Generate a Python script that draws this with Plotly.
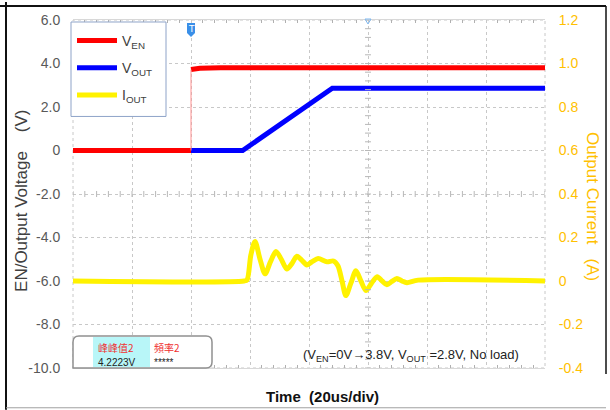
import plotly.graph_objects as go

# ---------------- data ----------------
# time in microseconds (20 us/div, 8 divisions)
ven_t = [0, 40, None, 40, 41, 43, 50, 160]
ven_v = [0, 0, None, 3.72, 3.75, 3.78, 3.8, 3.8]

vout_t = [40, 57.5, 87.9, 160]
vout_v = [0, 0, 2.86, 2.86]

iout_t = [0, 58.0, 59.0, 60.3, 61.7, 63.4, 65.1, 67.0, 68.8, 70.6, 72.5, 74.2,
          75.9, 77.6, 79.3, 81.2, 83.1, 86.1, 88.3, 89.8, 91.2, 92.5, 94.2,
          95.9, 97.6, 99.3, 101.2, 103.1, 104.8, 106.4, 108.1, 109.8, 111.5,
          113.2, 117.0, 160]
iout_a = [0, 0, 0.005, 0.12, 0.182, 0.10, 0.033, 0.09, 0.136, 0.10, 0.055, 0.08,
          0.114, 0.095, 0.074, 0.09, 0.103, 0.088, 0.092, 0.07, 0.0, -0.067, -0.01,
          0.047, 0.0, -0.044, -0.01, 0.02, 0.0, -0.017, -0.002, 0.012, 0.0,
          -0.008, 0.004, 0.0]

y_left_vals = [6, 4, 2, 0, -2, -4, -6, -8, -10]
y_left_text = ["6.0", "4.0", "2.0", "0", "-2.0", "-4.0", "-6.0", "-8.0", "-10.0"]
y_right_vals = [1.2, 1.0, 0.8, 0.6, 0.4, 0.2, 0.0, -0.2, -0.4]
y_right_text = ["1.2", "1.0", "0.8", "0.6", "0.4", "0.2", "0", "-0.2", "-0.4"]

meas_labels = ["峰峰值2", "頻率2"]
meas_values = ["4.2223V", "*****"]

# ---------------- figure ----------------
W, H = 610, 410
L, R, T, B = 73, 65, 18, 42
PW, PH = W - L - R, H - T - B

def px(x):
    return (x - L) / PW

def py(y):
    return (H - B - y) / PH

fig = go.Figure()

fig.add_trace(go.Scatter(x=ven_t, y=ven_v, mode="lines",
                         name="V<sub>EN</sub>", legendgroup="a",
                         line=dict(color="#FF0000", width=5)))
fig.add_trace(go.Scatter(x=vout_t, y=vout_v, mode="lines",
                         name="V<sub>OUT</sub>", legendgroup="b",
                         line=dict(color="#0000FF", width=5)))
fig.add_trace(go.Scatter(x=iout_t, y=iout_a, yaxis="y2", mode="lines",
                         name="I<sub>OUT</sub>", legendgroup="c",
                         line=dict(color="#FFF200", width=5, shape="spline", smoothing=0.8)))
# thin fast edge of EN step
fig.add_trace(go.Scatter(x=[ven_t[1], ven_t[3]], y=[ven_v[1], ven_v[3]], mode="lines",
                         showlegend=False, hoverinfo="skip", legendgroup="a",
                         line=dict(color="#FF9090", width=1)))

grid_c = "#C8C8C8"
fig.update_layout(
    width=W, height=H,
    margin=dict(l=L, r=R, t=T, b=B, pad=0),
    paper_bgcolor="white", plot_bgcolor="white",
    font=dict(family="Liberation Sans, Arial, sans-serif", size=14, color="#595959"),
    xaxis=dict(range=[0, 160], dtick=20, tick0=0, showticklabels=False,
               showgrid=True, gridcolor=grid_c, griddash="dot", gridwidth=1,
               zeroline=False, showline=True, linecolor="#D8D8D8", mirror="ticks",
               ticks="", minor=dict(dtick=4, ticks="inside", ticklen=3,
                                    tickcolor="#B0B0B0", showgrid=False)),
    yaxis=dict(range=[-10, 6], tickvals=y_left_vals, ticktext=y_left_text,
               showgrid=True, gridcolor=grid_c, griddash="dot", gridwidth=1,
               zeroline=False, showline=False, ticks="outside", ticklen=9,
               tickcolor="rgba(0,0,0,0)", tickfont=dict(size=14, color="#595959")),
    yaxis2=dict(range=[-0.4, 1.2], tickvals=y_right_vals, ticktext=y_right_text,
                overlaying="y", side="right", showgrid=False, zeroline=False,
                showline=False, ticks="outside", ticklen=10,
                tickcolor="rgba(0,0,0,0)", tickfont=dict(size=14, color="#FFC000")),
    legend=dict(x=px(72), y=py(23), xanchor="left", yanchor="top",
                bgcolor="rgba(0,0,0,0)", borderwidth=0,
                font=dict(size=14, color="#404040"), tracegroupgap=6,
                itemwidth=40, traceorder="grouped"),
    showlegend=True,
    hovermode=False,
)

shapes = []
# center crosshair tick marks
for k in range(41):
    tv = 0.4 * k - 10
    shapes.append(dict(type="line", xref="x", yref="y", xsizemode="pixel", xanchor=100,
                       x0=-3, x1=3, y0=tv, y1=tv, line=dict(color="#B8B8B8", width=1)))
for k in range(41):
    tt = 4 * k
    shapes.append(dict(type="line", xref="x", yref="y", ysizemode="pixel", yanchor=-2,
                       x0=tt, x1=tt, y0=-3, y1=3, line=dict(color="#B8B8B8", width=1)))
# plot border (dotted)
shapes.append(dict(type="rect", xref="paper", yref="paper", x0=0, x1=1, y0=0, y1=1,
                   line=dict(color=grid_c, width=1, dash="dot"), layer="below"))
# legend box
shapes.append(dict(type="rect", xref="paper", yref="paper", x0=px(71), x1=px(166),
                   y0=py(115), y1=py(20), fillcolor="white",
                   line=dict(color="#8EA3C8", width=1), layer="above"))
# measurement box
box = ("M 0,0 L 0,26 Q 0,32 6,32 L 133,32 Q 139,32 139,26 L 139,6 Q 139,0 133,0 Z")
shapes.append(dict(type="path", xref="paper", yref="paper", xsizemode="pixel",
                   ysizemode="pixel", xanchor=0, yanchor=0, path=box,
                   fillcolor="white", line=dict(color="#909090", width=1.5)))
shapes.append(dict(type="rect", xref="paper", yref="paper", xsizemode="pixel",
                   ysizemode="pixel", xanchor=0, yanchor=0, x0=20, x1=77, y0=1, y1=31,
                   fillcolor="#B8F6F8", line=dict(width=0)))
# trigger marker
shapes.append(dict(type="path", xref="x", yref="paper", xsizemode="pixel",
                   ysizemode="pixel", xanchor=40, yanchor=1,
                   path="M -4,-3 L 4,-3 L 4,-13 L 0,-17 L -4,-13 Z",
                   fillcolor="#3A8FE8", line=dict(width=0)))
shapes.append(dict(type="path", xref="x", yref="paper", xsizemode="pixel",
                   ysizemode="pixel", xanchor=100, yanchor=1,
                   path="M -3,1 L 3,1 L 0,-4 Z", fillcolor="rgba(0,0,0,0)",
                   line=dict(color="#7FB8F0", width=1)))
# outer frame
shapes.append(dict(type="line", xref="paper", yref="paper", x0=px(0), x1=px(606),
                   y0=py(4), y1=py(4), line=dict(color="#111111", width=2)))
shapes.append(dict(type="line", xref="paper", yref="paper", x0=px(6), x1=px(6),
                   y0=py(0), y1=py(410), line=dict(color="#111111", width=2)))
shapes.append(dict(type="line", xref="paper", yref="paper", x0=px(606), x1=px(606),
                   y0=py(4), y1=py(374), line=dict(color="#111111", width=1.5)))
shapes.append(dict(type="line", xref="paper", yref="paper", x0=px(6), x1=px(606),
                   y0=py(408), y1=py(408), line=dict(color="#A0A0A0", width=1)))
fig.update_layout(shapes=shapes)

C = dict(xanchor="center", yanchor="middle", showarrow=False, xref="paper", yref="paper")
ann = []
ann.append(dict(text="EN/Output Voltage&nbsp;&nbsp;&nbsp;&nbsp;(V)",
                x=px(22), y=py(200), textangle=-90,
                font=dict(size=17, color="#404040"), **C))
ann.append(dict(text="Output Current&nbsp;&nbsp;&nbsp;(A)",
                x=px(592), y=py(205), textangle=90,
                font=dict(size=17, color="#FFC000"), **C))
ann.append(dict(text="<b>Time&nbsp;&nbsp;(20us/div)</b>",
                x=px(322), y=py(397),
                font=dict(size=15, color="#111111"), **C))
ann.append(dict(text="(V<sub>EN</sub>=0V→3.8V, V<sub>OUT</sub> =2.8V, No load)",
                x=px(411), y=py(355),
                font=dict(size=13, color="#222222"), **C))
ann.append(dict(text="T", xref="x", yref="paper", x=40, y=py(27), showarrow=False,
                xanchor="center", yanchor="middle",
                font=dict(size=9, color="white", family="DejaVu Sans")))
cjk = "Noto Sans CJK TC, Noto Sans CJK SC, sans-serif"
for i, (lab, val) in enumerate(zip(meas_labels, meas_values)):
    x0 = px(96) if i == 0 else px(152)
    ann.append(dict(text=lab, xref="paper", yref="paper", x=x0, y=py(347),
                    xanchor="left", yanchor="middle", showarrow=False,
                    font=dict(size=10, color="#F03030", family=cjk)))
    ann.append(dict(text=val, xref="paper", yref="paper", x=x0, y=py(362),
                    xanchor="left", yanchor="middle", showarrow=False,
                    font=dict(size=10, color="#222222")))
fig.update_layout(annotations=ann)

fig.write_html("out.html", config={"displayModeBar": False},
               post_script="document.body.style.margin='0';"
               "document.body.style.overflow='hidden';")
